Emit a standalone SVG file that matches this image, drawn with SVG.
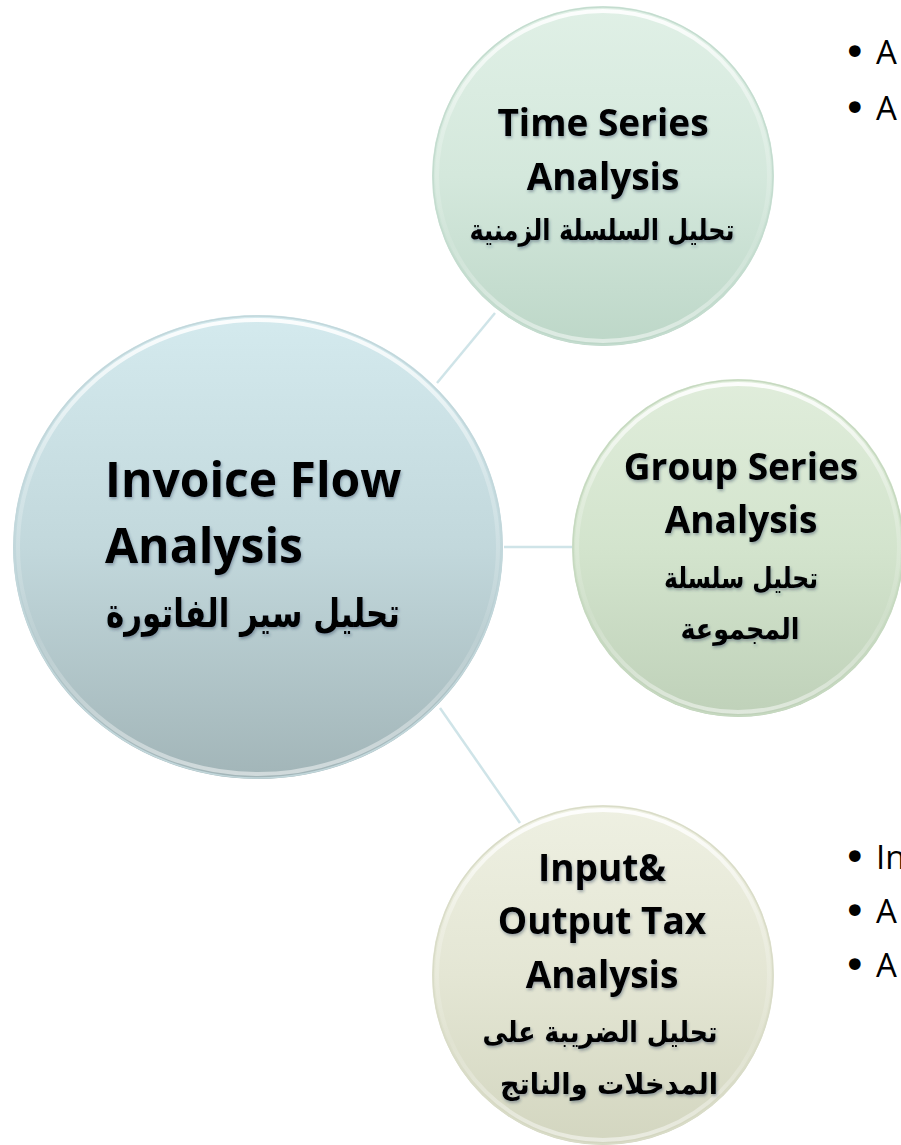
<svg xmlns="http://www.w3.org/2000/svg" width="901" height="1145" viewBox="0 0 901 1145">
<style>
.en{font-family:"Open Sans","Noto Sans","DejaVu Sans",sans-serif;font-weight:700;fill:#000;text-anchor:middle}
.st{text-anchor:start}
.ar{font-family:"DejaVu Sans","Noto Sans",sans-serif;font-weight:700;fill:#000;text-anchor:middle}
.bl{font-family:"Open Sans","Noto Sans",sans-serif;font-size:33px;fill:#000}
.dot{font-family:"DejaVu Sans",sans-serif;font-size:40px;fill:#000}
.lbl{filter:url(#sh)}
.conn{stroke:#cfe4e8;stroke-width:2.5;fill:none}
.rim{fill:none;stroke:url(#rimG);stroke-width:4}
.edge{fill:none;stroke-width:1.5}
</style>
<defs>
<filter id="sh" x="-10%" y="-20%" width="120%" height="150%">
<feDropShadow dx="1" dy="2" stdDeviation="1.8" flood-color="#2a3a55" flood-opacity="0.4"/>
</filter>
<linearGradient id="gMain" x1="0" y1="0" x2="0" y2="1">
<stop offset="0" stop-color="#d4eaee"/>
<stop offset="0.5" stop-color="#c2d8dc"/>
<stop offset="1" stop-color="#a2b5b8"/>
</linearGradient>
<linearGradient id="gTS" x1="0" y1="0" x2="0" y2="1">
<stop offset="0" stop-color="#e0f0e6"/>
<stop offset="0.5" stop-color="#d4e8dc"/>
<stop offset="1" stop-color="#bdd7c8"/>
</linearGradient>
<linearGradient id="gGS" x1="0" y1="0" x2="0" y2="1">
<stop offset="0" stop-color="#e0eddb"/>
<stop offset="0.5" stop-color="#d3e4cd"/>
<stop offset="1" stop-color="#bfd1b9"/>
</linearGradient>
<linearGradient id="gIO" x1="0" y1="0" x2="0" y2="1">
<stop offset="0" stop-color="#eef0e2"/>
<stop offset="0.5" stop-color="#e4e6d4"/>
<stop offset="1" stop-color="#d3d6c0"/>
</linearGradient>
<linearGradient id="rimG" x1="0" y1="0" x2="0" y2="1">
<stop offset="0" stop-color="#ffffff" stop-opacity="0.9"/>
<stop offset="0.35" stop-color="#ffffff" stop-opacity="0.25"/>
<stop offset="0.7" stop-color="#ffffff" stop-opacity="0.1"/>
<stop offset="1" stop-color="#ffffff" stop-opacity="0.5"/>
</linearGradient>
</defs>

<g id="connectors">
<line class="conn" x1="437" y1="383" x2="495" y2="313"/>
<line class="conn" x1="504" y1="547" x2="573" y2="547"/>
<line class="conn" x1="440" y1="708" x2="520" y2="823"/>
</g>

<g id="node-main">
<ellipse cx="258" cy="547" rx="245" ry="232" fill="url(#gMain)"/>
<ellipse class="rim" cx="258" cy="547" rx="240" ry="227"/>
<ellipse class="edge" cx="258" cy="547" rx="244" ry="231" stroke="#c2d7db"/>
<g class="lbl">
<text class="en st" x="105" y="497" font-size="48">Invoice Flow</text>
<text class="en st" x="105" y="563" font-size="48">Analysis</text>
<text class="ar" x="253" y="627" font-size="40" textLength="294" lengthAdjust="spacingAndGlyphs">تحليل سير الفاتورة</text>
</g>
</g>

<g id="node-time-series">
<ellipse cx="603" cy="176" rx="171" ry="170" fill="url(#gTS)"/>
<ellipse class="rim" cx="603" cy="176" rx="166" ry="165"/>
<ellipse class="edge" cx="603" cy="176" rx="170" ry="169" stroke="#c4dccf"/>
<g class="lbl">
<text class="en" x="603" y="136" font-size="37">Time Series</text>
<text class="en" x="603" y="190" font-size="37">Analysis</text>
<text class="ar" x="602" y="240" font-size="29" textLength="265" lengthAdjust="spacingAndGlyphs">تحليل السلسلة الزمنية</text>
</g>
</g>

<g id="node-group-series">
<ellipse cx="738" cy="548" rx="166" ry="169" fill="url(#gGS)"/>
<ellipse class="rim" cx="738" cy="548" rx="161" ry="164"/>
<ellipse class="edge" cx="738" cy="548" rx="165" ry="168" stroke="#c6d9c0"/>
<g class="lbl">
<text class="en" x="741" y="480" font-size="37">Group Series</text>
<text class="en" x="741" y="533" font-size="37">Analysis</text>
<text class="ar" x="741" y="588" font-size="29" textLength="154" lengthAdjust="spacingAndGlyphs">تحليل سلسلة</text>
<text class="ar" x="740" y="639" font-size="29" textLength="119" lengthAdjust="spacingAndGlyphs">المجموعة</text>
</g>
</g>

<g id="node-input-output">
<ellipse cx="603" cy="975" rx="171" ry="170" fill="url(#gIO)"/>
<ellipse class="rim" cx="603" cy="975" rx="166" ry="165"/>
<ellipse class="edge" cx="603" cy="975" rx="170" ry="169" stroke="#d9dcc8"/>
<g class="lbl">
<text class="en" x="602" y="881" font-size="37">Input&amp;</text>
<text class="en" x="602" y="934" font-size="37">Output Tax</text>
<text class="en" x="602" y="988" font-size="37">Analysis</text>
<text class="ar" x="600" y="1042" font-size="29" textLength="235" lengthAdjust="spacingAndGlyphs">تحليل الضريبة على</text>
<text class="ar" x="609" y="1094" font-size="29" textLength="218" lengthAdjust="spacingAndGlyphs">المدخلات والناتج</text>
</g>
</g>

<g id="bullets-top">
<text class="dot" x="843" y="66">•</text><text class="bl" x="876" y="64">A</text>
<text class="dot" x="843" y="122">•</text><text class="bl" x="876" y="120">A</text>
</g>
<g id="bullets-bottom">
<text class="dot" x="843" y="871">•</text><text class="bl" x="876" y="869">In</text>
<text class="dot" x="843" y="925">•</text><text class="bl" x="876" y="923">A</text>
<text class="dot" x="843" y="979">•</text><text class="bl" x="876" y="977">A</text>
</g>
</svg>
